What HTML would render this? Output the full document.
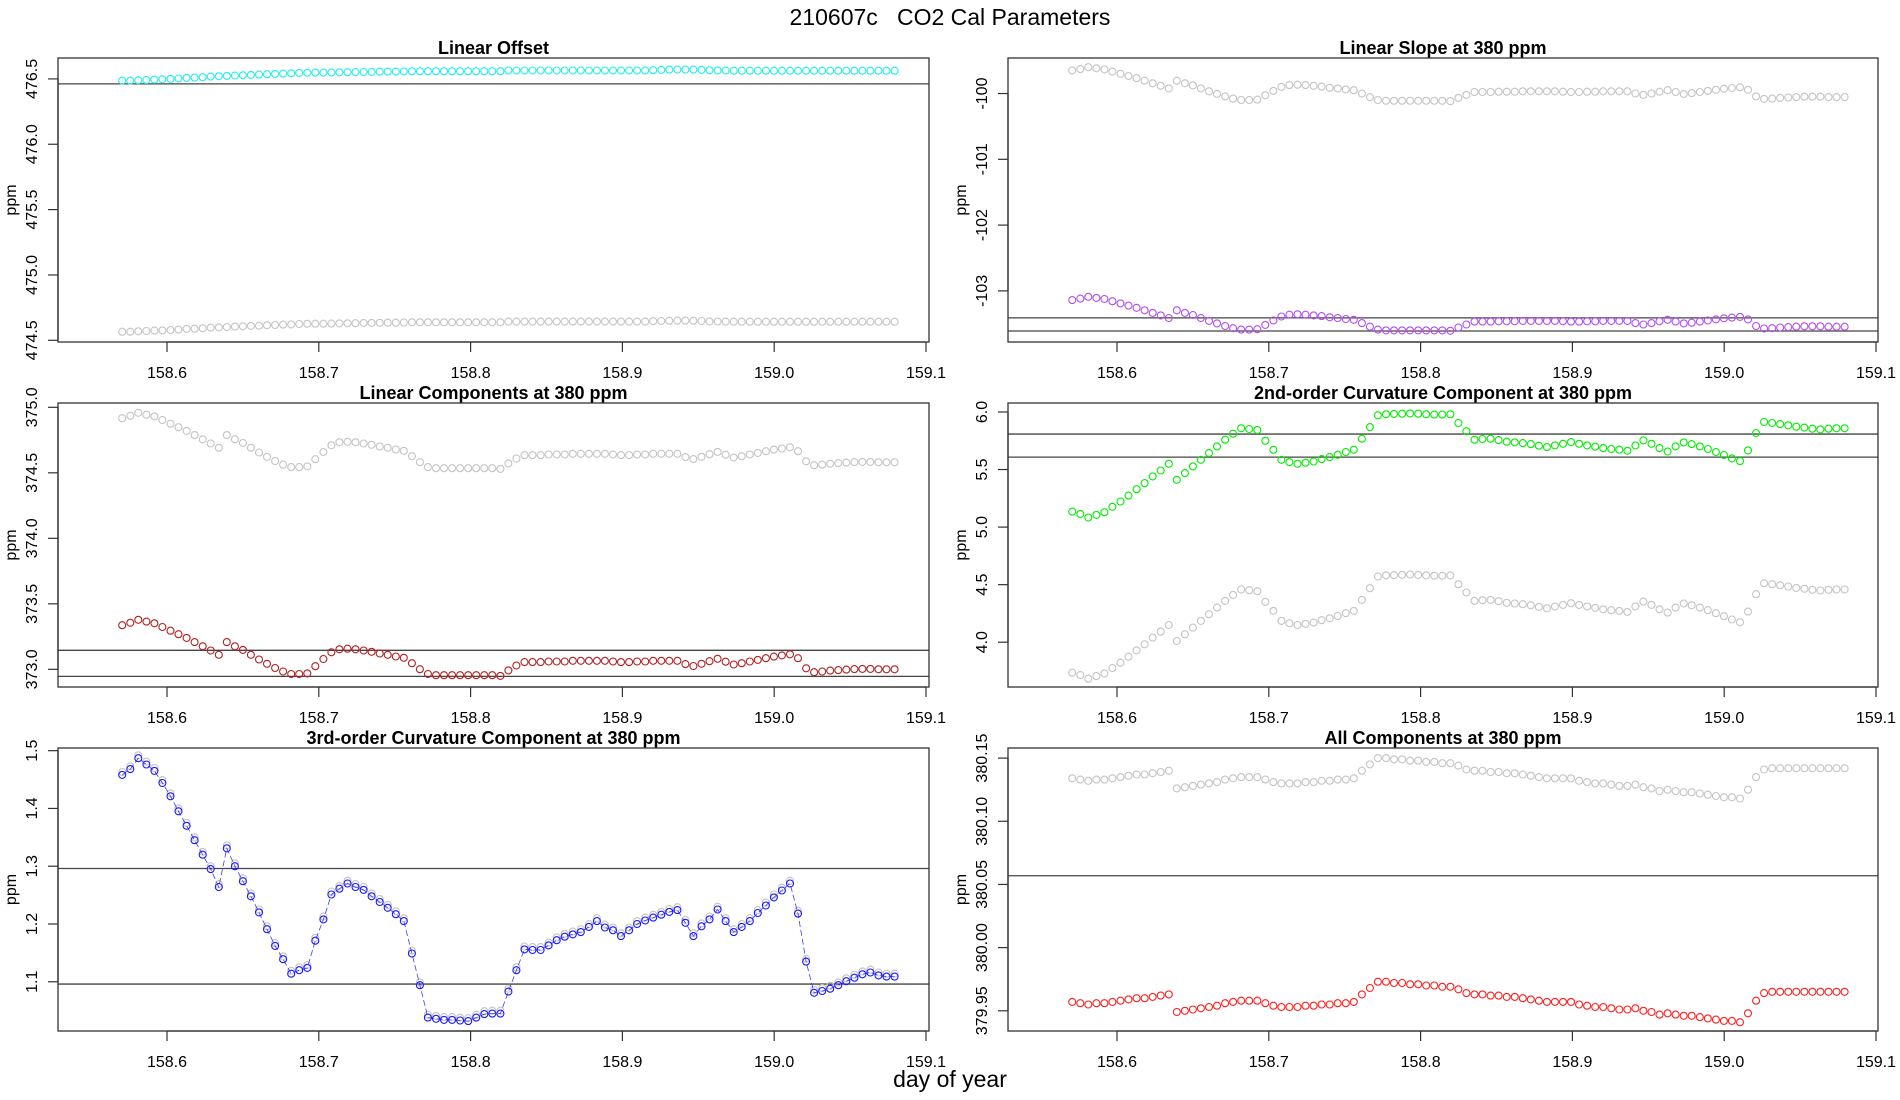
<!DOCTYPE html>
<html><head><meta charset="utf-8"><title>210607c CO2 Cal Parameters</title>
<style>
html,body{margin:0;padding:0;background:#fff;}
svg{display:block;font-family:"Liberation Sans",Arial,sans-serif;}
</style></head>
<body>
<svg id="chart" width="1900" height="1100" viewBox="0 0 1900 1100" xmlns="http://www.w3.org/2000/svg">
<rect x="0" y="0" width="1900" height="1100" fill="#fff"/>
<text x="950" y="25" text-anchor="middle" font-size="23" xml:space="preserve">210607c   CO2 Cal Parameters</text>
<text x="950" y="1087" text-anchor="middle" font-size="23">day of year</text>
</svg>
<script>
const dayStart = 158.5705;
const dayStep = 0.0053;
const xTickValues = [158.6, 158.7, 158.8, 158.9, 159.0, 159.1];
const xTickLabels = ["158.6", "158.7", "158.8", "158.9", "159.0", "159.1"];

const offsetCyan = [476.487,476.487,476.490,476.492,476.495,476.497,476.500,476.503,476.508,476.510,476.513,476.518,476.520,476.523,476.526,476.528,476.531,476.533,476.536,476.538,476.541,476.543,476.546,476.547,476.548,476.548,476.549,476.550,476.551,476.552,476.553,476.554,476.555,476.556,476.556,476.557,476.559,476.559,476.559,476.559,476.559,476.559,476.559,476.559,476.559,476.559,476.559,476.559,476.564,476.564,476.564,476.564,476.564,476.564,476.564,476.564,476.564,476.564,476.564,476.564,476.564,476.564,476.564,476.564,476.564,476.564,476.567,476.569,476.571,476.572,476.572,476.571,476.569,476.566,476.565,476.564,476.563,476.563,476.563,476.563,476.563,476.563,476.563,476.563,476.563,476.563,476.563,476.563,476.563,476.563,476.563,476.563,476.563,476.563,476.563,476.563,476.563];
const offsetGray = [474.566,474.566,474.569,474.571,474.574,474.576,474.579,474.582,474.587,474.589,474.592,474.597,474.599,474.602,474.605,474.607,474.610,474.612,474.615,474.617,474.620,474.622,474.625,474.626,474.627,474.627,474.628,474.629,474.630,474.631,474.632,474.633,474.634,474.635,474.635,474.636,474.638,474.638,474.638,474.638,474.638,474.638,474.638,474.638,474.638,474.638,474.638,474.638,474.643,474.643,474.643,474.643,474.643,474.643,474.643,474.643,474.643,474.643,474.643,474.643,474.643,474.643,474.643,474.643,474.643,474.643,474.646,474.648,474.650,474.651,474.651,474.650,474.648,474.645,474.644,474.643,474.642,474.642,474.642,474.642,474.642,474.642,474.642,474.642,474.642,474.642,474.642,474.642,474.642,474.642,474.642,474.642,474.642,474.642,474.642,474.642,474.642];

const slopePurple = [-103.140,-103.118,-103.090,-103.107,-103.124,-103.157,-103.190,-103.223,-103.257,-103.295,-103.334,-103.373,-103.412,-103.295,-103.334,-103.367,-103.412,-103.456,-103.495,-103.534,-103.567,-103.589,-103.589,-103.583,-103.517,-103.450,-103.389,-103.362,-103.356,-103.362,-103.373,-103.384,-103.401,-103.412,-103.428,-103.439,-103.489,-103.545,-103.589,-103.600,-103.600,-103.600,-103.600,-103.600,-103.600,-103.600,-103.600,-103.606,-103.556,-103.511,-103.467,-103.467,-103.467,-103.462,-103.462,-103.462,-103.456,-103.456,-103.456,-103.456,-103.456,-103.462,-103.467,-103.467,-103.462,-103.462,-103.456,-103.456,-103.456,-103.456,-103.489,-103.511,-103.489,-103.462,-103.439,-103.467,-103.495,-103.484,-103.467,-103.450,-103.434,-103.417,-103.406,-103.395,-103.434,-103.534,-103.572,-103.567,-103.556,-103.550,-103.545,-103.539,-103.539,-103.539,-103.545,-103.545,-103.545];
const slopeGray = [-99.650,-99.628,-99.600,-99.617,-99.634,-99.667,-99.700,-99.733,-99.767,-99.805,-99.844,-99.883,-99.922,-99.805,-99.844,-99.877,-99.922,-99.966,-100.005,-100.044,-100.077,-100.099,-100.099,-100.093,-100.027,-99.960,-99.899,-99.872,-99.866,-99.872,-99.883,-99.894,-99.911,-99.922,-99.938,-99.949,-99.999,-100.055,-100.099,-100.110,-100.110,-100.110,-100.110,-100.110,-100.110,-100.110,-100.110,-100.116,-100.066,-100.021,-99.977,-99.977,-99.977,-99.972,-99.972,-99.972,-99.966,-99.966,-99.966,-99.966,-99.966,-99.972,-99.977,-99.977,-99.972,-99.972,-99.966,-99.966,-99.966,-99.966,-99.999,-100.021,-99.999,-99.972,-99.949,-99.977,-100.005,-99.994,-99.977,-99.960,-99.944,-99.927,-99.916,-99.905,-99.944,-100.044,-100.082,-100.077,-100.066,-100.060,-100.055,-100.049,-100.049,-100.049,-100.055,-100.055,-100.055];

const linRed = [373.337,373.355,373.378,373.364,373.351,373.323,373.295,373.268,373.240,373.208,373.176,373.144,373.111,373.208,373.176,373.148,373.111,373.075,373.042,373.010,372.983,372.964,372.964,372.969,373.024,373.079,373.130,373.153,373.157,373.153,373.144,373.134,373.121,373.111,373.098,373.088,373.047,373.001,372.964,372.955,372.955,372.955,372.955,372.955,372.955,372.955,372.955,372.950,372.992,373.029,373.055,373.055,373.055,373.060,373.060,373.060,373.065,373.065,373.065,373.065,373.065,373.060,373.055,373.055,373.060,373.060,373.065,373.065,373.065,373.065,373.040,373.025,373.042,373.062,373.080,373.058,373.037,373.047,373.060,373.072,373.085,373.097,373.106,373.115,373.085,373.008,372.978,372.983,372.990,372.994,372.998,373.002,373.003,373.003,373.000,373.000,373.000];
const linGray = [374.917,374.935,374.958,374.944,374.931,374.903,374.875,374.848,374.820,374.788,374.756,374.724,374.691,374.788,374.756,374.728,374.691,374.655,374.622,374.590,374.563,374.544,374.544,374.549,374.604,374.659,374.710,374.733,374.737,374.733,374.724,374.714,374.701,374.691,374.678,374.668,374.627,374.581,374.544,374.535,374.535,374.535,374.535,374.535,374.535,374.535,374.535,374.530,374.572,374.609,374.635,374.635,374.635,374.640,374.640,374.640,374.645,374.645,374.645,374.645,374.645,374.640,374.635,374.635,374.640,374.640,374.645,374.645,374.645,374.645,374.620,374.605,374.622,374.642,374.660,374.638,374.617,374.627,374.640,374.652,374.665,374.677,374.686,374.695,374.665,374.588,374.558,374.563,374.570,374.574,374.578,374.582,374.583,374.583,374.580,374.580,374.580];

const curv2Green = [5.135,5.115,5.083,5.106,5.129,5.176,5.222,5.274,5.329,5.382,5.440,5.492,5.550,5.411,5.469,5.527,5.585,5.643,5.701,5.759,5.811,5.858,5.852,5.843,5.750,5.672,5.585,5.565,5.550,5.559,5.570,5.591,5.608,5.628,5.652,5.672,5.768,5.869,5.971,5.980,5.983,5.985,5.988,5.985,5.980,5.977,5.977,5.980,5.904,5.832,5.759,5.765,5.768,5.756,5.742,5.736,5.730,5.721,5.707,5.695,5.710,5.724,5.739,5.724,5.710,5.698,5.686,5.678,5.672,5.663,5.710,5.753,5.724,5.686,5.657,5.701,5.736,5.721,5.701,5.678,5.652,5.626,5.597,5.573,5.666,5.817,5.913,5.904,5.895,5.884,5.872,5.864,5.855,5.849,5.855,5.858,5.858];
const curv2Gray = [3.735,3.715,3.683,3.706,3.729,3.776,3.822,3.874,3.929,3.982,4.040,4.092,4.150,4.011,4.069,4.127,4.185,4.243,4.301,4.359,4.411,4.458,4.452,4.443,4.350,4.272,4.185,4.165,4.150,4.159,4.170,4.191,4.208,4.228,4.252,4.272,4.368,4.469,4.571,4.580,4.583,4.585,4.588,4.585,4.580,4.577,4.577,4.580,4.504,4.432,4.359,4.365,4.368,4.356,4.342,4.336,4.330,4.321,4.307,4.295,4.310,4.324,4.339,4.324,4.310,4.298,4.286,4.278,4.272,4.263,4.310,4.353,4.324,4.286,4.257,4.301,4.336,4.321,4.301,4.278,4.252,4.226,4.197,4.173,4.266,4.417,4.513,4.504,4.495,4.484,4.472,4.464,4.455,4.449,4.455,4.458,4.458];

const curv3Blue = [1.458,1.468,1.487,1.476,1.465,1.444,1.421,1.395,1.370,1.345,1.320,1.295,1.264,1.331,1.300,1.274,1.248,1.220,1.191,1.162,1.139,1.114,1.120,1.124,1.171,1.208,1.251,1.261,1.270,1.264,1.259,1.248,1.238,1.228,1.217,1.205,1.149,1.094,1.038,1.036,1.034,1.034,1.033,1.032,1.038,1.044,1.045,1.045,1.083,1.120,1.156,1.155,1.155,1.163,1.172,1.178,1.182,1.186,1.195,1.205,1.194,1.189,1.179,1.189,1.200,1.206,1.211,1.216,1.221,1.224,1.202,1.179,1.196,1.208,1.225,1.205,1.186,1.195,1.205,1.219,1.232,1.246,1.258,1.270,1.218,1.135,1.081,1.084,1.088,1.094,1.101,1.107,1.113,1.116,1.111,1.109,1.109];
const curv3Gray = [1.463,1.473,1.492,1.481,1.470,1.449,1.426,1.400,1.375,1.350,1.325,1.300,1.269,1.336,1.305,1.279,1.253,1.225,1.196,1.167,1.144,1.119,1.125,1.129,1.176,1.213,1.256,1.266,1.275,1.269,1.264,1.253,1.243,1.233,1.222,1.210,1.154,1.099,1.043,1.041,1.039,1.039,1.038,1.037,1.043,1.049,1.050,1.050,1.088,1.125,1.161,1.160,1.160,1.168,1.177,1.183,1.187,1.191,1.200,1.210,1.199,1.194,1.184,1.194,1.205,1.211,1.216,1.221,1.226,1.229,1.207,1.184,1.201,1.213,1.230,1.210,1.191,1.200,1.210,1.224,1.237,1.251,1.263,1.275,1.223,1.140,1.086,1.089,1.093,1.099,1.106,1.112,1.118,1.121,1.116,1.114,1.114];

const allRed = [379.957,379.956,379.955,379.956,379.956,379.957,379.958,379.959,379.960,379.960,379.961,379.962,379.963,379.949,379.950,379.951,379.952,379.953,379.954,379.956,379.957,379.958,379.958,379.958,379.956,379.954,379.953,379.953,379.953,379.954,379.954,379.955,379.955,379.956,379.956,379.957,379.963,379.968,379.973,379.973,379.972,379.972,379.971,379.971,379.970,379.970,379.969,379.969,379.967,379.964,379.963,379.963,379.962,379.962,379.961,379.961,379.960,379.959,379.958,379.957,379.957,379.957,379.957,379.955,379.954,379.953,379.953,379.952,379.951,379.951,379.952,379.950,379.949,379.947,379.948,379.947,379.946,379.946,379.945,379.944,379.943,379.942,379.942,379.941,379.948,379.958,379.964,379.965,379.965,379.965,379.965,379.965,379.965,379.965,379.965,379.965,379.965];
const allGray = [380.134,380.133,380.132,380.133,380.133,380.134,380.135,380.136,380.137,380.137,380.138,380.139,380.140,380.126,380.127,380.128,380.129,380.130,380.131,380.133,380.134,380.135,380.135,380.135,380.133,380.131,380.130,380.130,380.130,380.131,380.131,380.132,380.132,380.133,380.133,380.134,380.140,380.145,380.150,380.150,380.149,380.149,380.148,380.148,380.147,380.147,380.146,380.146,380.144,380.141,380.140,380.140,380.139,380.139,380.138,380.138,380.137,380.136,380.135,380.134,380.134,380.134,380.134,380.132,380.131,380.130,380.130,380.129,380.128,380.128,380.129,380.127,380.126,380.124,380.125,380.124,380.123,380.123,380.122,380.121,380.120,380.119,380.119,380.118,380.125,380.135,380.141,380.142,380.142,380.142,380.142,380.142,380.142,380.142,380.142,380.142,380.142];

const yTicksOffset = [474.5, 475.0, 475.5, 476.0, 476.5];
const yLabelsOffset = ["474.5", "475.0", "475.5", "476.0", "476.5"];
const yTicksSlope = [-103, -102, -101, -100];
const yLabelsSlope = ["-103", "-102", "-101", "-100"];
const yTicksLin = [373.0, 373.5, 374.0, 374.5, 375.0];
const yLabelsLin = ["373.0", "373.5", "374.0", "374.5", "375.0"];
const yTicksC2 = [4.0, 4.5, 5.0, 5.5, 6.0];
const yLabelsC2 = ["4.0", "4.5", "5.0", "5.5", "6.0"];
const yTicksC3 = [1.1, 1.2, 1.3, 1.4, 1.5];
const yLabelsC3 = ["1.1", "1.2", "1.3", "1.4", "1.5"];
const yTicksAll = [379.95, 380.00, 380.05, 380.10, 380.15];
const yLabelsAll = ["379.95", "380.00", "380.05", "380.10", "380.15"];

const hlinesOffset = [476.462];
const hlinesSlope = [-103.41, -103.61];
const hlinesLin = [373.145, 372.946];
const hlinesC2 = [5.808, 5.608];
const hlinesC3 = [1.296, 1.096];
const hlinesAll = [380.0569];

const NS = "http://www.w3.org/2000/svg";
const svg = document.getElementById("chart");
function mk(tag, attrs, parent) {
  const e = document.createElementNS(NS, tag);
  for (const k in attrs) e.setAttribute(k, attrs[k]);
  (parent || svg).appendChild(e);
  return e;
}

const panels = [
  {key:"linear-offset", title:"Linear Offset", box:[58,58,929,342], ymin:474.487, ymax:476.66, ticks:yTicksOffset, labels:yLabelsOffset, hl:hlinesOffset,
   series:[{name:"offset-gray", d:offsetGray, c:"#c4c4c4"},{name:"offset-cyan", d:offsetCyan, c:"#22eeee"}]},
  {key:"linear-slope", title:"Linear Slope at 380 ppm", box:[1008,58,1878,342], ymin:-103.777, ymax:-99.46, ticks:yTicksSlope, labels:yLabelsSlope, hl:hlinesSlope,
   series:[{name:"slope-gray", d:slopeGray, c:"#c4c4c4"},{name:"slope-purple", d:slopePurple, c:"#b34ff0"}]},
  {key:"linear-components", title:"Linear Components at 380 ppm", box:[58,403,929,687], ymin:372.865, ymax:375.033, ticks:yTicksLin, labels:yLabelsLin, hl:hlinesLin,
   series:[{name:"linear-gray", d:linGray, c:"#c4c4c4"},{name:"linear-red", d:linRed, c:"#b22222"}]},
  {key:"curvature-2nd", title:"2nd-order Curvature Component at 380 ppm", box:[1008,403,1878,687], ymin:3.611, ymax:6.078, ticks:yTicksC2, labels:yLabelsC2, hl:hlinesC2,
   series:[{name:"curv2-gray", d:curv2Gray, c:"#c4c4c4"},{name:"curv2-green", d:curv2Green, c:"#00ee00"}]},
  {key:"curvature-3rd", title:"3rd-order Curvature Component at 380 ppm", box:[58,748,929,1031], ymin:1.0148, ymax:1.5046, ticks:yTicksC3, labels:yLabelsC3, hl:hlinesC3, dashed:true,
   series:[{name:"curv3-gray", d:curv3Gray, c:"#c4c4c4"},{name:"curv3-blue", d:curv3Blue, c:"#1a1aff"}]},
  {key:"all-components", title:"All Components at 380 ppm", box:[1008,748,1878,1031], ymin:379.934, ymax:380.158, ticks:yTicksAll, labels:yLabelsAll, hl:hlinesAll,
   series:[{name:"all-gray", d:allGray, c:"#c4c4c4"},{name:"all-red", d:allRed, c:"#ff2020"}]}
];

panels.forEach(function(p) {
  const [x0, y0, x1, y1] = p.box;
  const xShift = x0 - 58;
  const xs = function(v){ return 167 + xShift + (v - 158.6) * 1518; };
  const ys = function(v){ return y1 - (v - p.ymin) / (p.ymax - p.ymin) * (y1 - y0); };
  const g = mk("g", {});
  
  

  const t = mk("text", {x:(x0 + x1) / 2, y:y0 - 4, "text-anchor":"middle", "font-size":"18", "font-weight":"bold"}, g);
  t.textContent = p.title;
  
  

  p.hl.forEach(function(h) {
    const l = mk("line", {x1:x0, x2:x1, y1:ys(h), y2:ys(h), stroke:"#444", "stroke-width":"1.3"}, g);
    
    
  });

  p.series.forEach(function(s, si) {
    const sg = mk("g", {}, g);
    
    
    if (p.dashed && si === 1) {
      let pts = s.d.map(function(v, i){ return xs(dayStart + i * dayStep).toFixed(1) + "," + ys(v).toFixed(1); }).join(" ");
      const pl = mk("polyline", {points:pts, fill:"none", stroke:s.c, "stroke-width":"0.8", "stroke-dasharray":"6,3", opacity:"0.85"}, sg);
      
      
    }
    s.d.forEach(function(v, i) {
      const c = mk("circle", {cx:xs(dayStart + i * dayStep).toFixed(1), cy:ys(v).toFixed(1), r:"3.5", fill:"#fff", "fill-opacity":"0", stroke:s.c, "stroke-width":"1.1"}, sg);
      
      
    });
  });

  const b = mk("rect", {x:x0, y:y0, width:x1 - x0, height:y1 - y0, fill:"none", stroke:"#333", "stroke-width":"1.3"}, g);
  
  

  const xa = mk("g", {}, g);
  
  
  mk("line", {x1:xs(xTickValues[0]), x2:xs(xTickValues[xTickValues.length - 1]), y1:y1, y2:y1, stroke:"#333", "stroke-width":"1.3"}, xa);
  xTickValues.forEach(function(v, i) {
    mk("line", {x1:xs(v), x2:xs(v), y1:y1, y2:y1 + 10, stroke:"#333", "stroke-width":"1.2"}, xa);
    const tl = mk("text", {x:xs(v), y:y1 + 36, "text-anchor":"middle", "font-size":"16"}, xa);
    tl.textContent = xTickLabels[i];
    
    
  });

  const ya = mk("g", {}, g);
  
  
  mk("line", {x1:x0, x2:x0, y1:ys(p.ticks[0]), y2:ys(p.ticks[p.ticks.length - 1]), stroke:"#333", "stroke-width":"1.3"}, ya);
  p.ticks.forEach(function(v, i) {
    mk("line", {x1:x0 - 10, x2:x0, y1:ys(v), y2:ys(v), stroke:"#333", "stroke-width":"1.2"}, ya);
    const lx = x0 - 21, ly = ys(v);
    const tl = mk("text", {x:lx, y:ly, "text-anchor":"middle", "font-size":"16", transform:"rotate(-90 " + lx + " " + ly + ")"}, ya);
    tl.textContent = p.labels[i];
    
    
  });
  const px = x0 - 42, py = (y0 + y1) / 2;
  const yl = mk("text", {x:px, y:py, "text-anchor":"middle", "font-size":"16", transform:"rotate(-90 " + px + " " + py + ")"}, ya);
  yl.textContent = "ppm";
  
  
});
</script>
</body></html>
